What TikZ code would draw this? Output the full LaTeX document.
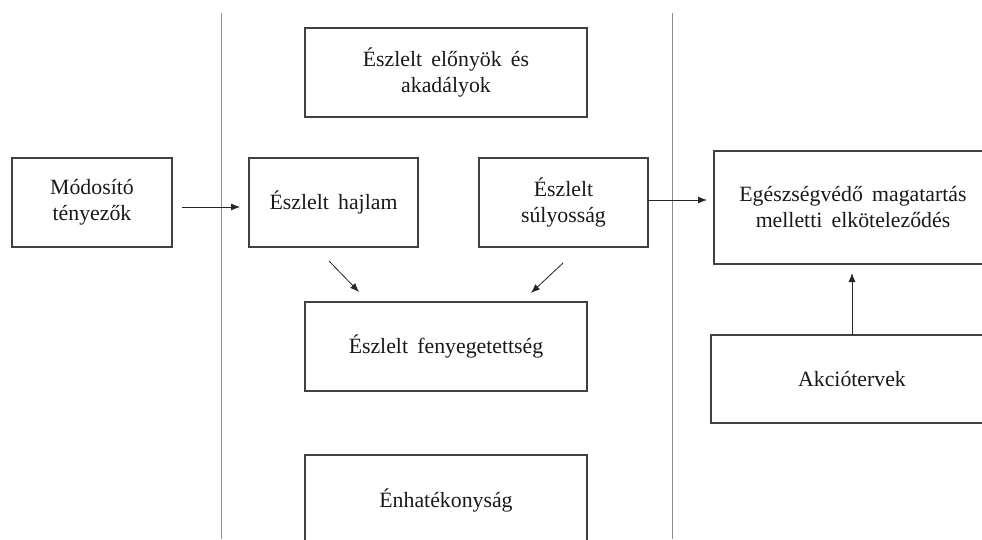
\documentclass[tikz,border=0pt]{standalone}
\usepackage{fontspec}
\setmainfont{Liberation Serif}[WordSpace=1.7]
\usetikzlibrary{arrows.meta}
\begin{document}
\begin{tikzpicture}[x=1pt,y=-1pt,
  box/.style={draw=black!75, line width=1.1pt, align=center, inner sep=0pt, outer sep=0pt,
    font=\fontsize{21.8}{26}\selectfont, text=black!90},
  arr/.style={draw=black!85, line width=0.8pt, -{Latex[length=9pt,width=7pt]}},
  divider/.style={draw=black!45, line width=1pt}]
\clip (0,0) rectangle (982,539);
\fill[white] (0,0) rectangle (982,539);
\draw[divider] (221.7,13) -- (221.7,539);
\draw[divider] (672,13) -- (672,539);
\node[box, minimum width=160pt, minimum height=89pt] (mod) at (92,202.5) {Módosító\\tényezők};
\node[box, minimum width=169pt, minimum height=89pt] (hajlam) at (333.5,202.5) {Észlelt hajlam};
\node[box, minimum width=169pt, minimum height=89pt] (suly) at (563.5,202.5) {Észlelt\\súlyosság};
\node[box, minimum width=282pt, minimum height=89pt] (elony) at (446,72.5) {Észlelt előnyök és\\akadályok};
\node[box, minimum width=282pt, minimum height=89pt] (feny) at (446,346.5) {Észlelt fenyegetettség};
\node[box, minimum width=282pt, minimum height=90pt] (en) at (446,500) {Énhatékonyság};
\node[box, minimum width=278pt, minimum height=113pt] (egesz) at (853,207.5) {Egészségvédő magatartás\\melletti elköteleződés};
\node[box, minimum width=282pt, minimum height=88pt] (akcio) at (852,379) {Akciótervek};
\draw[arr] ([yshift=-4.5pt]mod.east) ++(10,0) -- ([yshift=-4.5pt,xshift=-9pt]hajlam.west);
\draw[arr] ([yshift=2.5pt]suly.east) -- ([yshift=2.5pt,xshift=-7pt]suly.east -| egesz.west);
\draw[arr] ([xshift=-4.5pt,yshift=-14pt]hajlam.south) -- ([xshift=-87pt,yshift=10pt]feny.north);
\draw[arr] ([xshift=-0.5pt,yshift=-16pt]suly.south) -- ([xshift=85pt,yshift=9pt]feny.north);
\draw[arr] (akcio.north) -- ([yshift=-9pt]akcio.north |- egesz.south);
\end{tikzpicture}
\end{document}
